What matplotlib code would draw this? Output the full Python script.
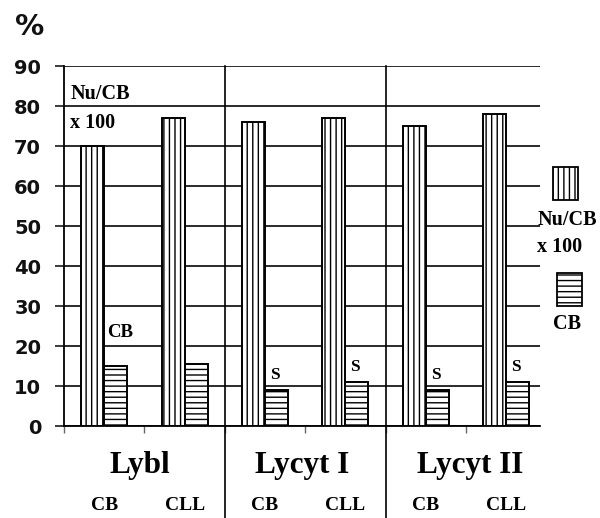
import matplotlib
matplotlib.use("Agg")
import matplotlib.pyplot as plt
import matplotlib.patches as mpatches
import numpy as np

# ---- data ----
groups = ["Lybl", "Lycyt I", "Lycyt II"]
subcats = ["CB", "CLL", "CB", "CLL", "CB", "CLL"]
nu_cb_x100 = [70, 77, 76, 77, 75, 78]
cb_values = [15, 15.5, 9, 11, 9, 11]
cb_labels = ["CB", "", "S", "S", "S", "S"]
yticks = [0, 10, 20, 30, 40, 50, 60, 70, 80, 90]

plt.rcParams['hatch.linewidth'] = 1.0
plt.rcParams['hatch.color'] = 'black'

fig = plt.figure(figsize=(6.0, 5.18), dpi=100)
ax = fig.add_axes([64/600, 1-426/518, 476/600, 360/518])

x = np.arange(len(subcats))
w = 0.286
serif = ['Liberation Serif', 'DejaVu Serif']

# gridlines
for t in yticks:
    ax.axhline(t, color='#1a1a1a', lw=1.3, zorder=1)

ax.bar(x - w/2, nu_cb_x100, width=w, facecolor='white', edgecolor='black',
       hatch='|||', lw=1.4, zorder=3)
ax.bar(x + w/2, cb_values, width=w, facecolor='white', edgecolor='black',
       hatch='---', lw=1.4, zorder=3)

ax.set_xlim(-0.5, 5.42)
ax.set_ylim(0, 90)
ax.set_yticks(yticks)
ax.set_yticklabels([str(t) for t in yticks], fontsize=14, fontweight='bold',
                   family='DejaVu Sans', color='#111')
ax.tick_params(axis='y', length=6.5, width=1.2, pad=10, color='#1a1a1a')
ax.set_xticks(np.arange(-0.5, 5.0, 1.0))
ax.set_xticklabels([])
ax.tick_params(axis='x', length=5, width=1.0, color='#666')
for s in ['top', 'right']:
    ax.spines[s].set_visible(False)
ax.spines['left'].set_linewidth(1.3)
ax.spines['bottom'].set_linewidth(1.3)

# group separators
for sx in [1.5, 3.5]:
    ax.plot([sx, sx], [90, -23.5], color='black', lw=1.2, clip_on=False, zorder=4)

# group labels
gcenters = [0.44, 2.46, 4.55]
for gx, g in zip(gcenters, groups):
    ax.text(gx, -9.8, g, ha='center', va='center', fontsize=22.5,
            fontweight='bold', family=serif, clip_on=False)
for xi, s in zip(x, subcats):
    ax.text(xi, -19.8, s, ha='center', va='center', fontsize=14,
            fontweight='bold', family=serif, clip_on=False)

# annotations
ax.text(-0.42, 83, "Nu/CB", ha='left', va='center', fontsize=14.5,
        fontweight='bold', family=serif)
ax.text(-0.42, 75.8, "x 100", ha='left', va='center', fontsize=14.5,
        fontweight='bold', family=serif)
for xi, v, lab in zip(x, cb_values, cb_labels):
    if not lab:
        continue
    if lab == "CB":
        ax.text(xi + w/2 + 0.06, v + 8.3, lab, ha='center', va='center',
                fontsize=13.5, fontweight='bold', family=serif)
    else:
        ax.text(xi + w/2 - 0.02, v + 3.8, lab, ha='center', va='center',
                fontsize=12.5, fontweight='bold', family=serif)

# percent sign
fig.text(30/600, 1-27/518, "%", ha='center', va='center', fontsize=21,
         fontweight='bold', family='DejaVu Sans', color='#111')

# legend
fig.patches.append(mpatches.Rectangle((553/600, 1-200/518), 25/600, 33/518,
                   transform=fig.transFigure, facecolor='white', edgecolor='black',
                   hatch='|||', lw=1.3))
fig.patches.append(mpatches.Rectangle((557/600, 1-306/518), 25/600, 33/518,
                   transform=fig.transFigure, facecolor='white', edgecolor='black',
                   hatch='---', lw=1.3))
fig.text(567/600, 1-220/518, "Nu/CB", ha='center', va='center', fontsize=14.5,
         fontweight='bold', family=serif)
fig.text(560/600, 1-247/518, "x 100", ha='center', va='center', fontsize=14.5,
         fontweight='bold', family=serif)
fig.text(567/600, 1-324/518, "CB", ha='center', va='center', fontsize=14.5,
         fontweight='bold', family=serif)

fig.savefig("out.png", dpi=100)
